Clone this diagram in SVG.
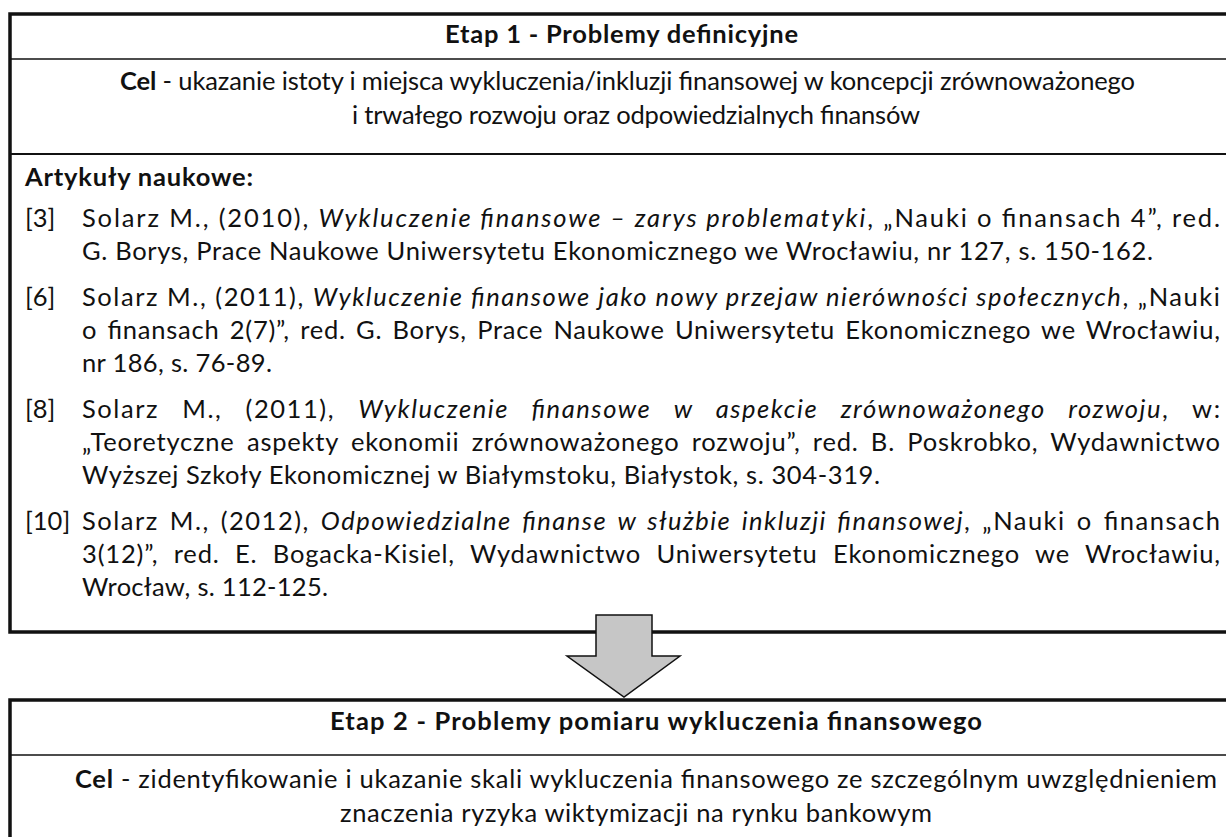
<svg xmlns="http://www.w3.org/2000/svg" width="1226" height="837" viewBox="0 0 1226 837">
<style>
text{font-family:Lato,"Open Sans","Liberation Sans",sans-serif;font-size:25.5px;fill:#111}
.b{font-weight:bold}
.i{font-style:italic}
.frame{fill:none;stroke:#111;stroke-width:3.5}
.sep{stroke:#111;stroke-width:1.6}
.sep2{stroke:#111;stroke-width:2.2}
.arrow{fill:#c6c6c6;stroke:#111;stroke-width:1.5;stroke-linejoin:miter}
</style>
<rect x="0" y="0" width="1226" height="837" fill="#fff"/>
<g id="box1">
<rect class="frame" x="10" y="14" width="1260" height="618"/>
<line class="sep" x1="10" y1="59" x2="1226" y2="59"/>
<line class="sep2" x1="10" y1="154" x2="1226" y2="154"/>
<text class="b" x="445" y="43" textLength="353" lengthAdjust="spacing">Etap 1 - Problemy definicyjne</text>
<text x="120" y="90" textLength="1015" lengthAdjust="spacing"><tspan class="b">Cel</tspan> - ukazanie istoty i miejsca wykluczenia/inkluzji finansowej w koncepcji zrównoważonego</text>
<text x="352" y="124" textLength="568" lengthAdjust="spacing">i trwałego rozwoju oraz odpowiedzialnych finansów</text>
<text class="b" x="25" y="186" textLength="228" lengthAdjust="spacing">Artykuły naukowe:</text>
<text x="25" y="227">[3]</text>
<text x="82" y="227" textLength="1138" lengthAdjust="spacing">Solarz M., (2010), <tspan class="i">Wykluczenie finansowe – zarys problematyki</tspan>, „Nauki o finansach 4”, red.</text>
<text x="82" y="260" textLength="1071" lengthAdjust="spacing">G. Borys, Prace Naukowe Uniwersytetu Ekonomicznego we Wrocławiu, nr 127, s. 150-162.</text>
<text x="25" y="306">[6]</text>
<text x="82" y="306" textLength="1138" lengthAdjust="spacing">Solarz M., (2011), <tspan class="i">Wykluczenie finansowe jako nowy przejaw nierówności społecznych</tspan>, „Nauki</text>
<text x="82" y="339" textLength="1138" lengthAdjust="spacing" word-spacing="3">o finansach 2(7)”, red. G. Borys, Prace Naukowe Uniwersytetu Ekonomicznego we Wrocławiu,</text>
<text x="82" y="372" textLength="190" lengthAdjust="spacing">nr 186, s. 76-89.</text>
<text x="25" y="418">[8]</text>
<text x="82" y="418" textLength="1138" lengthAdjust="spacing" word-spacing="15">Solarz M., (2011), <tspan class="i">Wykluczenie finansowe w aspekcie zrównoważonego rozwoju</tspan>, w:</text>
<text x="82" y="451" textLength="1138" lengthAdjust="spacing" word-spacing="5">„Teoretyczne aspekty ekonomii zrównoważonego rozwoju”, red. B. Poskrobko, Wydawnictwo</text>
<text x="82" y="484" textLength="798" lengthAdjust="spacing">Wyższej Szkoły Ekonomicznej w Białymstoku, Białystok, s. 304-319.</text>
<text x="25" y="530">[10]</text>
<text x="82" y="530" textLength="1138" lengthAdjust="spacing" word-spacing="3">Solarz M., (2012), <tspan class="i">Odpowiedzialne finanse w służbie inkluzji finansowej</tspan>, „Nauki o finansach</text>
<text x="82" y="563" textLength="1138" lengthAdjust="spacing" word-spacing="8">3(12)”, red. E. Bogacka-Kisiel, Wydawnictwo Uniwersytetu Ekonomicznego we Wrocławiu,</text>
<text x="82" y="596" textLength="246" lengthAdjust="spacing">Wrocław, s. 112-125.</text>
</g>
<g id="box2">
<rect class="frame" x="10" y="700" width="1260" height="200"/>
<line class="sep" x1="10" y1="755" x2="1226" y2="755"/>
<text class="b" x="330" y="730" textLength="652" lengthAdjust="spacing">Etap 2 - Problemy pomiaru wykluczenia finansowego</text>
<text x="75" y="788" textLength="1142" lengthAdjust="spacing"><tspan class="b">Cel</tspan> - zidentyfikowanie i ukazanie skali wykluczenia finansowego ze szczególnym uwzględnieniem</text>
<text x="340" y="822" textLength="592" lengthAdjust="spacing">znaczenia ryzyka wiktymizacji na rynku bankowym</text>
</g>
<g id="connectors">
<polygon class="arrow" points="596,615 652,615 652,656 680,656 624,697 567,656 596,656"/>
</g>
</svg>
